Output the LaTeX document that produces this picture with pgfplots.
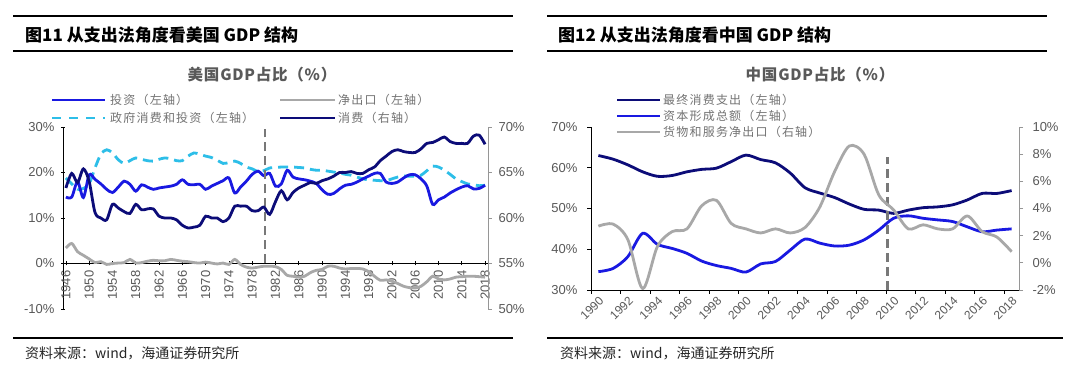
\documentclass[border=0pt]{standalone}
\usepackage{pgfplots}
\pgfplotsset{compat=1.18}
\usepackage{pgfplotstable}
\usepackage{fontspec}
\setmainfont{Liberation Sans}
\newfontfamily\cjk{Noto Sans CJK SC}
\newfontfamily\cjkleg{Noto Sans CJK SC}[LetterSpace=10]
\newfontfamily\cjktitle{Noto Sans CJK SC}[LetterSpace=5]

\definecolor{navyc}{RGB}{12,12,120}
\definecolor{bluec}{RGB}{25,25,225}
\definecolor{cyanc}{RGB}{45,190,232}
\definecolor{grayc}{RGB}{168,168,168}
\definecolor{dashc}{RGB}{120,120,120}
\definecolor{tickc}{RGB}{89,89,89}
\definecolor{legc}{RGB}{115,115,115}
\definecolor{axgray}{RGB}{150,150,150}

\pgfplotstableread{
year inv net gov con
1946 14.6 3.4 18.8 63.3
1947 14.6 4.4 17.5 64.9
1948 18.0 2.6 16.3 63.9
1949 14.5 1.8 16.5 65.4
1950 19.5 1.0 17.5 64.0
1951 18.5 0.2 21.0 60.6
1952 17.5 0.4 24.0 60.0
1953 16.3 -0.2 25.0 59.8
1954 15.6 0.0 24.3 61.5
1955 16.8 0.1 22.8 61.1
1956 18.1 0.2 22.0 60.7
1957 17.4 0.9 22.6 60.5
1958 15.9 0.1 23.2 61.5
1959 17.3 0.2 22.9 60.9
1960 16.8 0.5 22.6 61.0
1961 16.3 0.7 22.5 61.0
1962 16.6 0.6 22.9 60.2
1963 16.8 0.6 23.2 60.0
1964 17.0 0.9 23.0 60.0
1965 17.4 0.7 22.6 59.8
1966 18.4 0.5 22.6 59.2
1967 17.4 0.4 23.6 58.9
1968 17.3 0.2 24.3 59.0
1969 17.4 0.1 24.0 59.2
1970 16.3 0.3 23.6 60.2
1971 17.0 0.1 23.3 60.0
1972 17.6 -0.1 22.7 60.0
1973 18.2 0.1 22.0 59.6
1974 18.8 -0.2 22.2 60.0
1975 15.5 0.9 22.5 61.3
1976 16.8 -0.2 22.0 61.3
1977 18.1 -0.8 21.2 61.3
1978 19.6 -1.0 20.8 60.8
1979 20.3 -0.8 20.2 60.8
1980 19.3 -0.6 20.4 61.2
1981 19.8 -0.6 21.0 60.4
1982 17.0 -0.7 21.1 61.8
1983 17.5 -1.3 21.2 63.0
1984 20.5 -2.6 21.2 62.0
1985 19.0 -2.8 21.2 62.8
1986 18.6 -3.0 21.1 63.3
1987 18.4 -2.8 21.0 63.6
1988 18.1 -2.0 20.7 63.9
1989 17.6 -1.5 20.5 63.8
1990 16.2 -1.3 20.5 64.1
1991 15.2 -0.6 20.3 64.3
1992 15.4 -0.6 20.1 64.6
1993 16.4 -1.0 19.9 65.0
1994 17.2 -1.2 19.6 65.0
1995 17.4 -1.1 19.4 65.1
1996 17.9 -1.1 19.0 64.9
1997 18.6 -1.2 18.6 64.9
1998 19.2 -1.8 18.4 65.3
1999 19.8 -2.8 18.3 65.6
2000 19.8 -3.7 18.2 66.3
2001 17.9 -3.6 18.2 66.8
2002 17.6 -3.9 18.6 67.3
2003 17.9 -4.4 19.0 67.5
2004 18.8 -5.0 19.2 67.3
2005 19.5 -5.3 19.2 67.2
2006 19.5 -5.4 19.2 67.2
2007 18.6 -5.0 19.4 67.6
2008 17.0 -4.0 20.4 68.2
2009 13.0 -2.8 21.4 68.3
2010 14.0 -3.4 21.2 68.6
2011 14.6 -3.6 20.5 68.9
2012 15.5 -3.4 19.6 68.4
2013 16.2 -3.0 18.6 68.2
2014 16.8 -2.9 18.0 68.2
2015 17.1 -2.8 17.5 68.2
2016 16.4 -2.8 17.3 69.0
2017 16.5 -2.9 17.1 69.1
2018 17.2 -3.0 17.2 68.1
}\usdata

\pgfplotstableread{
year con cap net
1990 63.0 34.5 2.7
1991 62.1 35.3 2.85
1992 60.7 38.2 1.7
1993 59.0 43.9 -1.9
1994 57.9 41.2 1.2
1995 58.1 40.2 2.3
1996 59.0 39.0 2.5
1997 59.6 37.1 4.2
1998 59.9 36.0 4.6
1999 61.5 35.3 2.9
2000 63.1 34.4 2.5
2001 62.0 36.4 2.2
2002 61.2 37.0 2.5
2003 58.7 39.8 2.2
2004 55.1 42.5 2.6
2005 53.8 41.5 4.1
2006 52.7 40.8 6.7
2007 51.1 41.0 8.6
2008 49.8 42.3 8.0
2009 49.6 44.7 5.0
2010 48.8 47.6 3.9
2011 49.6 48.2 2.5
2012 50.2 47.6 2.8
2013 50.4 47.2 2.5
2014 50.9 46.8 2.5
2015 52.1 45.5 3.45
2016 53.7 44.3 2.3
2017 53.7 44.7 1.9
2018 54.4 45.0 0.82
}\cndata

\pgfplotsset{
  base/.style={
    scale only axis, anchor=south west,
    tick align=outside, major tick length=4pt,
    tick label style={font=\fontsize{13}{13}\selectfont, text=tickc},
    clip=true,
  },
  ser/.style={line width=2.8pt, smooth, tension=0.5, no markers},
}

\begin{document}
\begin{tikzpicture}[x=1pt,y=1pt]
\fill[white] (0,0) rectangle (1080,372);
\useasboundingbox (0,0) rectangle (1080,372);

% ---------------- left panel: US ----------------
\begin{axis}[base,
  at={(63pt,63pt)}, width=425pt, height=182pt,
  xmin=1945.5, xmax=2018.5, ymin=-10, ymax=30,
  axis x line=middle, axis y line=left,
  axis line style={-, black, line width=0.8pt},
  tick style={black, line width=0.8pt},
  hide obscured x ticks=false, hide obscured y ticks=false,
  xtick={1946,1950,...,2018},
  xticklabels={1946,1950,1954,1958,1962,1966,1970,1974,1978,1982,1986,1990,1994,1998,2002,2006,2010,2014,2018},
  xticklabel style={rotate=90, anchor=east, inner sep=5pt},
  ytick={-10,0,10,20,30},
  yticklabels={-10\%,0\%,10\%,20\%,30\%},
  yticklabel style={xshift=-3pt},
]
\addplot[ser, grayc] table[x=year,y=net]{\usdata};
\addplot[ser, cyanc, dash pattern=on 10pt off 6pt] table[x=year,y=gov]{\usdata};
\addplot[ser, bluec] table[x=year,y=inv]{\usdata};
\addplot[dashc, line width=2.6pt, dash pattern=on 9pt off 5pt] coordinates {(1980.2,0) (1980.2,29.5)};
\end{axis}
\begin{axis}[base,
  at={(63pt,63pt)}, width=425pt, height=182pt,
  xmin=1945.5, xmax=2018.5, ymin=50, ymax=70,
  axis x line=none, axis y line*=right,
  axis line style={-, axgray, line width=0.8pt},
  tick style={axgray, line width=0.8pt},
  ytick={50,55,60,65,70},
  yticklabels={50\%,55\%,60\%,65\%,70\%},
  yticklabel style={xshift=3pt},
]
\addplot[ser, navyc] table[x=year,y=con]{\usdata};
\end{axis}

% ---------------- right panel: China ----------------
\begin{axis}[base,
  at={(591pt,82pt)}, width=428pt, height=163pt,
  xmin=1989.5, xmax=2018.5, ymin=30, ymax=70,
  axis x line*=bottom, axis y line*=left,
  axis line style={-, black, line width=0.8pt},
  tick style={black, line width=0.8pt},
  xtick={1990,1992,...,2018},
  xticklabels={1990,1992,1994,1996,1998,2000,2002,2004,2006,2008,2010,2012,2014,2016,2018},
  major x tick style={draw=none},
  minor xtick={1989.5,1991.5,...,2017.5},
  minor tick length=4pt,
  xticklabel style={rotate=45, anchor=north east, inner sep=1pt, font=\fontsize{12}{12}\selectfont},
  ytick={30,40,50,60,70},
  yticklabels={30\%,40\%,50\%,60\%,70\%},
  yticklabel style={xshift=-6pt},
]
\addplot[ser, navyc] table[x=year,y=con]{\cndata};
\addplot[ser, bluec] table[x=year,y=cap]{\cndata};
\addplot[dashc, line width=2.6pt, dash pattern=on 9pt off 5pt] coordinates {(2009.6,30) (2009.6,62.6)};
\end{axis}
\begin{axis}[base,
  at={(591pt,82pt)}, width=428pt, height=163pt,
  xmin=1989.5, xmax=2018.5, ymin=-2, ymax=10,
  axis x line=none, axis y line*=right,
  axis line style={-, axgray, line width=0.8pt},
  tick style={axgray, line width=0.8pt},
  ytick={-2,0,2,4,6,8,10},
  yticklabels={-2\%,0\%,2\%,4\%,6\%,8\%,10\%},
  yticklabel style={xshift=6pt},
]
\addplot[ser, grayc] table[x=year,y=net]{\cndata};
\end{axis}

% ---------------- frames, titles, legends ----------------
\foreach \yy in {356,321,34} {\draw[line width=1.6pt] (13,\yy) -- (513,\yy);}
\draw[line width=1.6pt] (547,356) -- (1047,356);
\draw[line width=1.6pt] (547,321) -- (1047,321);
\draw[line width=1.6pt] (547,34) -- (1063,34);

\node[anchor=west, inner sep=0pt] at (25,337) {\cjk\bfseries\fontsize{17}{17}\selectfont 图11 从支出法角度看美国 GDP 结构};
\node[anchor=west, inner sep=0pt] at (558,337) {\cjk\bfseries\fontsize{17}{17}\selectfont 图12 从支出法角度看中国 GDP 结构};

\node[inner sep=0pt, text=tickc] at (262,297) {\cjktitle\bfseries\fontsize{15.5}{15.5}\selectfont 美国GDP占比（\%）};
\node[inner sep=0pt, text=tickc] at (820,297) {\cjktitle\bfseries\fontsize{15.5}{15.5}\selectfont 中国GDP占比（\%）};

% US legend
\draw[bluec, line width=2.6pt] (52,272) -- (105,272);
\node[anchor=west, inner sep=0pt, text=legc] at (110,272) {\cjkleg\fontsize{12}{12}\selectfont 投资（左轴）};
\draw[grayc, line width=2.6pt] (280,272) -- (335,272);
\node[anchor=west, inner sep=0pt, text=legc] at (338,272) {\cjkleg\fontsize{12}{12}\selectfont 净出口（左轴）};
\draw[cyanc, line width=2.6pt, dash pattern=on 9pt off 8pt] (52,254) -- (105,254);
\node[anchor=west, inner sep=0pt, text=legc] at (110,254) {\cjkleg\fontsize{12}{12}\selectfont 政府消费和投资（左轴）};
\draw[navyc, line width=2.6pt] (280,254) -- (335,254);
\node[anchor=west, inner sep=0pt, text=legc] at (338,254) {\cjkleg\fontsize{12}{12}\selectfont 消费（右轴）};

% China legend
\draw[navyc, line width=2.6pt] (617,272) -- (660,272);
\node[anchor=west, inner sep=0pt, text=legc] at (663,272) {\cjkleg\fontsize{12}{12}\selectfont 最终消费支出（左轴）};
\draw[bluec, line width=2.6pt] (617,256) -- (660,256);
\node[anchor=west, inner sep=0pt, text=legc] at (663,256) {\cjkleg\fontsize{12}{12}\selectfont 资本形成总额（左轴）};
\draw[grayc, line width=2.6pt] (617,240) -- (660,240);
\node[anchor=west, inner sep=0pt, text=legc] at (663,240) {\cjkleg\fontsize{12}{12}\selectfont 货物和服务净出口（右轴）};

% footers
\node[anchor=west, inner sep=0pt, text=black!85] at (25,19) {\cjk\fontsize{14}{14}\selectfont 资料来源：wind，海通证券研究所};
\node[anchor=west, inner sep=0pt, text=black!85] at (560,19) {\cjk\fontsize{14}{14}\selectfont 资料来源：wind，海通证券研究所};
\end{tikzpicture}
\end{document}
